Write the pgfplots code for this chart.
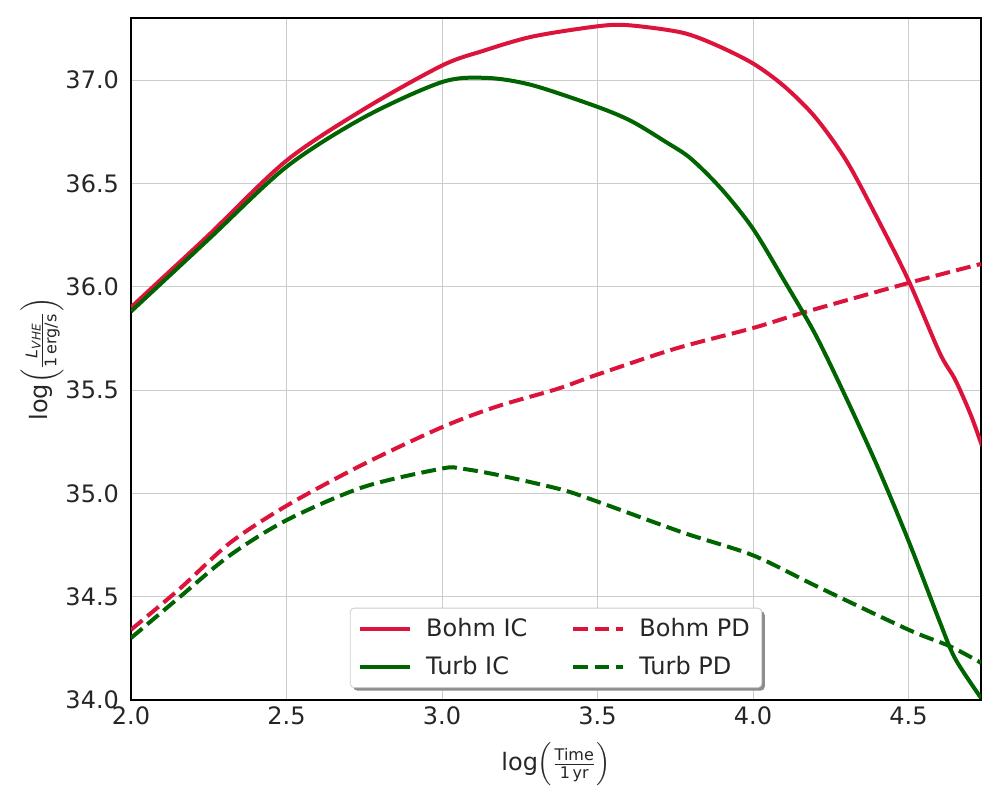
\documentclass[border=0pt]{standalone}
\usepackage{fontspec}
\setmainfont{DejaVu Sans}
\usepackage{amsmath}
\usepackage{pgfplots}
\pgfplotsset{compat=1.18}
\usetikzlibrary{shadows}

\definecolor{crimson}{RGB}{220,20,60}
\definecolor{dgreen}{RGB}{0,100,0}
\definecolor{ticktext}{RGB}{38,38,38}

\begin{document}
\begin{tikzpicture}
\useasboundingbox (-65.5pt,-50pt) rectangle (434.5pt,350pt);
\begin{axis}[
    scale only axis,
    width=425pt, height=341pt,
    xmin=2.0, xmax=4.733,
    ymin=34.0, ymax=37.3,
    xtick={2.0,2.5,3.0,3.5,4.0,4.5},
    ytick={34.0,34.5,35.0,35.5,36.0,36.5,37.0},
    major tick length=0pt,
    grid=major,
    grid style={line width=0.5pt, draw=black!20},
    axis line style={line width=1.25pt, black},
    tick label style={font=\fontsize{12}{14}\selectfont, text=ticktext},
    /pgf/number format/assume math mode=true,
    /pgf/number format/.cd, fixed, fixed zerofill, precision=1, /pgfplots/.cd,
    yticklabel style={xshift=-2.5pt},
    label style={font=\fontsize{12}{14}\selectfont, text=ticktext},
    xlabel={log$\left(\frac{\text{Time}}{\text{1\,yr}}\right)$},
    ylabel={log$\left(\frac{\text{\itshape L}_{\text{\itshape VHE}}}{\text{1\,erg/s}}\right)$},
    xlabel style={at={(axis description cs:0.5,-0.094)}, anchor=center},
    ylabel style={at={(axis description cs:-0.1047,0.5)}, anchor=center},
    legend columns=2,
    legend cell align=left,
    % low-level path so the legend's shadow is not repeated on the sample lines
    legend image code/.code={\begin{scope}[#1]
        \pgfpathmoveto{\pgfpointorigin}\pgfpathlineto{\pgfpoint{25pt}{0pt}}\pgfusepath{stroke}
        \end{scope}},
    legend style={at={(0.5,0.0176)}, anchor=south,
        font=\fontsize{12}{14}\selectfont, text=ticktext,
        draw=black!20, fill=white, rounded corners=2pt,
        drop shadow={shadow xshift=1.5pt, shadow yshift=-1.5pt, fill=black!45, opacity=1},
        inner xsep=4pt, inner ysep=3pt, row sep=4.5pt,
        /tikz/every odd column/.append style={column sep=5pt},
        /tikz/every even column/.append style={column sep=20pt}},
    every axis plot/.append style={line width=2pt},
]
% Bohm IC
\addplot[crimson, solid, smooth] coordinates {
(2.0,35.90) (2.1,36.04) (2.25,36.25) (2.5,36.61) (2.75,36.86) (3.0,37.07)
(3.13,37.14) (3.29,37.21) (3.5,37.26) (3.6,37.265) (3.77,37.23) (3.88,37.17)
(4.0,37.08) (4.1,36.97) (4.2,36.82) (4.3,36.61) (4.4,36.33) (4.5,36.03)
(4.6,35.68) (4.65,35.55) (4.7,35.38) (4.736,35.23)
};
\addlegendentry{Bohm IC}
% Bohm PD
\addplot[crimson, smooth, dash pattern=on 7.4pt off 3.2pt] coordinates {
(2.0,34.34) (2.158,34.54) (2.318,34.76) (2.5,34.94) (2.746,35.14) (3.0,35.32)
(3.176,35.42) (3.37,35.505) (3.5,35.575) (3.75,35.70) (4.0,35.80) (4.174,35.88)
(4.505,36.02) (4.733,36.11)
};
\addlegendentry{Bohm PD}
% Turb IC
\addplot[dgreen, solid, smooth] coordinates {
(2.0,35.88) (2.25,36.23) (2.5,36.58) (2.75,36.82) (3.0,36.99)
(3.145,37.01) (3.29,36.975) (3.5,36.87) (3.61,36.80) (3.72,36.70) (3.8,36.62)
(3.9,36.47) (4.0,36.28) (4.1,36.03) (4.2,35.77) (4.3,35.46) (4.4,35.13)
(4.5,34.77) (4.6,34.38) (4.65,34.20) (4.733,34.01)
};
\addlegendentry{Turb IC}
% Turb PD
\addplot[dgreen, smooth, dash pattern=on 7.4pt off 3.2pt] coordinates {
(2.0,34.30) (2.158,34.50) (2.318,34.70) (2.5,34.87) (2.746,35.03) (3.0,35.12)
(3.06,35.12) (3.176,35.09) (3.38,35.02) (3.5,34.96) (3.775,34.81) (4.0,34.70)
(4.205,34.55) (4.5,34.34) (4.633,34.26) (4.733,34.18)
};
\addlegendentry{Turb PD}
\end{axis}
\end{tikzpicture}
\end{document}
